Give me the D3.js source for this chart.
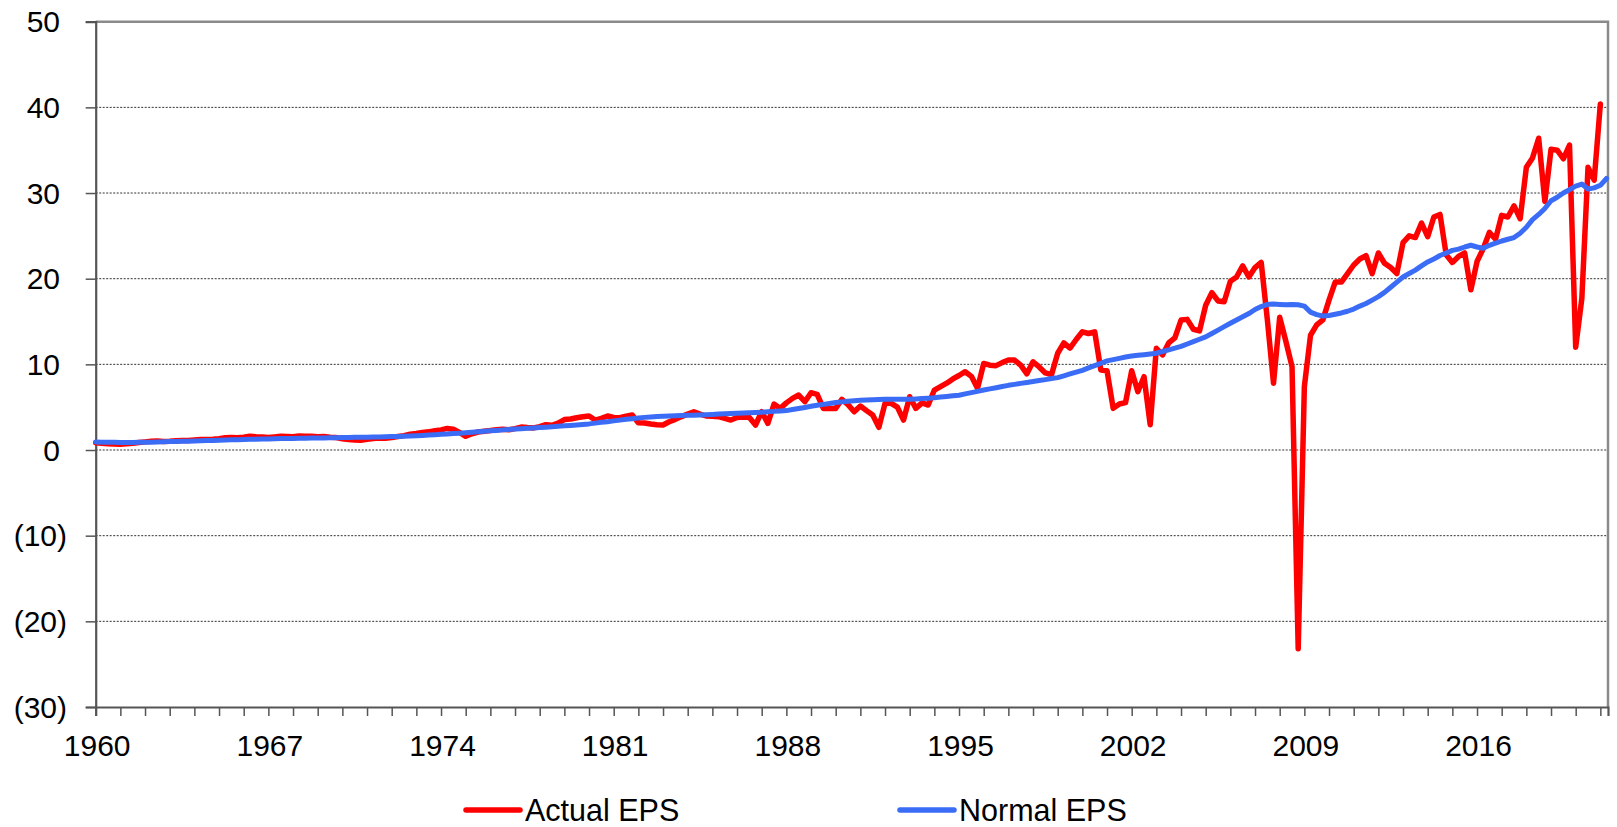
<!DOCTYPE html>
<html><head><meta charset="utf-8">
<script src="https://cdn.jsdelivr.net/npm/d3@7"></script>
<style>
body{margin:0;background:#fff}
svg{display:block}
text{font-family:"Liberation Sans",Arial,Helvetica,sans-serif;fill:#000}
</style>
</head><body>
<svg id="chart" width="1617" height="827"></svg>
<script>
// ---- data (quarterly, starting 1960 Q1) ----
const startYear = 1960;
const actualEPS = [
 0.85,0.78,0.72,0.70, 0.68,0.72,0.78,0.88, 0.95,1.02,1.05,1.00, 1.02,1.08,1.10,1.12,
 1.18,1.22,1.24,1.26, 1.32,1.42,1.45,1.44, 1.50,1.62,1.55,1.52, 1.45,1.52,1.60,1.58,
 1.55,1.64,1.60,1.62, 1.56,1.58,1.50,1.45, 1.32,1.22,1.18,1.15, 1.26,1.35,1.40,1.38,
 1.45,1.58,1.68,1.85, 1.92,2.05,2.12,2.25, 2.35,2.52,2.42,2.05, 1.60,1.90,2.10,2.20,
 2.28,2.38,2.42,2.36, 2.50,2.68,2.62,2.58, 2.72,2.95,2.88,3.15, 3.55,3.62,3.77,3.88,
 3.97,3.50,3.70,3.97, 3.80,3.77,3.95,4.08, 3.19,3.15,3.03,2.95, 2.92,3.30,3.58,3.90,
 4.20,4.47,4.20,3.97, 3.95,3.89,3.70,3.50, 3.80,3.85,3.80,2.92, 4.47,3.11,5.37,4.86,
 5.50,6.03,6.42,5.64, 6.69,6.50,4.86,4.86, 4.86,5.92,5.30,4.47, 5.14,4.60,4.08,2.65,
 5.45,5.45,5.00,3.50, 6.22,4.86,5.50,5.25, 7.00,7.40,7.80,8.30, 8.70,9.14,8.60,7.20,
 10.10,9.90,9.85,10.20, 10.50,10.50,9.90,8.90, 10.30,9.70,9.00,8.80, 11.30,12.50,11.90,12.90,
 13.80,13.60,13.80,9.34, 9.26,4.86,5.37,5.53, 9.26,6.81,8.56,2.95, 11.87,11.10,12.50,13.10,
 15.17,15.25,14.10,13.90, 16.90,18.36,17.40,17.30, 19.70,20.20,21.50,20.20, 21.30,21.90,15.20,7.80,
 15.50,12.70,9.73,-23.20, 7.40,13.40,14.60,15.20, 17.50,19.60,19.60,20.60, 21.60,22.30,22.70,20.60,
 23.00,21.80,21.30,20.60, 24.20,25.00,24.80,26.50, 24.90,27.20,27.50,22.80, 21.90,22.60,23.00,18.70,
 22.00,23.50,25.40,24.60, 27.40,27.20,28.50,27.00, 33.00,34.10,36.40,29.00, 35.10,35.00,34.00,35.60,
 12.00,17.70,33.00,31.50, 40.40
];
const normalEPS = [
 0.93,0.92,0.91,0.90, 0.89,0.89,0.89,0.90, 0.91,0.92,0.94,0.96, 0.98,1.00,1.01,1.03,
 1.05,1.07,1.10,1.12, 1.15,1.17,1.19,1.21, 1.23,1.25,1.27,1.29, 1.30,1.31,1.33,1.34,
 1.35,1.36,1.38,1.39, 1.40,1.41,1.43,1.44, 1.45,1.46,1.48,1.49, 1.50,1.52,1.53,1.55,
 1.57,1.59,1.62,1.64, 1.67,1.70,1.74,1.78, 1.83,1.87,1.92,1.97, 2.02,2.07,2.13,2.18,
 2.24,2.29,2.35,2.40, 2.45,2.49,2.54,2.58, 2.62,2.67,2.72,2.77, 2.82,2.87,2.93,2.99,
 3.05,3.14,3.23,3.31, 3.40,3.49,3.58,3.66, 3.75,3.81,3.86,3.91, 3.95,3.97,4.00,4.02,
 4.05,4.07,4.10,4.12, 4.15,4.19,4.22,4.26, 4.30,4.33,4.36,4.39, 4.42,4.46,4.51,4.55,
 4.60,4.72,4.85,4.97, 5.10,5.22,5.33,5.44, 5.55,5.62,5.68,5.74, 5.80,5.84,5.87,5.90,
 5.92,5.92,5.93,5.93, 5.93,5.96,6.00,6.05, 6.10,6.18,6.25,6.33, 6.40,6.55,6.70,6.85,
 7.00,7.14,7.27,7.41, 7.55,7.66,7.78,7.89, 8.00,8.11,8.22,8.34, 8.45,8.66,8.88,9.09,
 9.30,9.58,9.85,10.13, 10.40,10.55,10.70,10.85, 10.97,11.05,11.13,11.22, 11.30,11.50,11.70,11.90,
 12.10,12.38,12.65,12.93, 13.20,13.60,14.00,14.40, 14.80,15.18,15.55,15.93, 16.40,16.75,17.00,17.05,
 17.00,16.95,17.00,16.95, 16.80,16.10,15.80,15.65, 15.70,15.85,16.00,16.20, 16.45,16.80,17.10,17.50,
 17.90,18.40,19.00,19.60, 20.20,20.60,21.00,21.50, 21.95,22.30,22.70,23.00, 23.30,23.45,23.70,23.90,
 23.70,23.55,23.90,24.15, 24.40,24.60,24.80,25.30, 26.00,26.90,27.50,28.20, 29.10,29.50,30.00,30.40,
 30.80,31.05,30.45,30.60, 30.90,31.70
];
const yTickValues = [50,40,30,20,10,0,-10,-20,-30];
const gridValues = [40,30,20,10,0,-10,-20];
const xTickLabels = [1960,1967,1974,1981,1988,1995,2002,2009,2016];
const seriesNames = ["Actual EPS","Normal EPS"];
const seriesColors = ["#ff0000","#3b6cf6"];

// ---- layout ----
const svg = d3.select("#chart");
const plot = {left:95.7, right:1608, top:21.7, bottom:707};
const x = d3.scaleLinear().domain([startYear, 2021.31]).range([plot.left, plot.right]);
const y = d3.scaleLinear().domain([-30, 50]).range([plot.bottom, plot.top]);

// gridlines
svg.append("g").selectAll("line").data(gridValues).join("line")
  .attr("x1", plot.left).attr("x2", plot.right)
  .attr("y1", d => y(d)).attr("y2", d => y(d))
  .attr("stroke", "#333").attr("stroke-width", 1).attr("stroke-dasharray", "2,1.5");

// plot frame (top/right)
svg.append("path")
  .attr("d", `M${plot.left},${y(50)}H${plot.right}V${plot.bottom}`)
  .attr("fill", "none").attr("stroke", "#8a8a8a").attr("stroke-width", 2.5);

// y axis
const yAxis = d3.axisLeft(y).tickValues(yTickValues).tickSize(10).tickFormat("");
const gy = svg.append("g").attr("transform", `translate(${plot.left},0)`).call(yAxis);
gy.select(".domain").attr("stroke", "#555").attr("stroke-width", 2.2);
gy.selectAll(".tick line").attr("stroke", "#555").attr("stroke-width", 1.5);
svg.append("g").selectAll("text").data(yTickValues).join("text")
  .attr("x", d => d < 0 ? 67 : 60)
  .attr("y", d => y(d) + 10.7)
  .attr("text-anchor", "end")
  .style("font-size", "30px")
  .text(d => d < 0 ? `(${-d})` : `${d}`);

// x axis (yearly ticks)
const yearTicks = d3.range(startYear, 2022);
const xAxis = d3.axisBottom(x).tickValues(yearTicks).tickSize(9).tickFormat("");
const gx = svg.append("g").attr("transform", `translate(0,${plot.bottom})`).call(xAxis);
gx.select(".domain").attr("stroke", "#555").attr("stroke-width", 2.2);
gx.selectAll(".tick line").attr("stroke", "#555").attr("stroke-width", 1.5);
svg.append("g").selectAll("text").data(xTickLabels).join("text")
  .attr("x", d => x(d) + 1.5)
  .attr("y", 756)
  .attr("text-anchor", "middle")
  .style("font-size", "30px")
  .text(d => d);

// lines
const line = d3.line()
  .x((d, i) => x(startYear + i / 4))
  .y(d => y(d));
svg.append("path").datum(actualEPS).attr("d", line)
  .attr("fill", "none").attr("stroke", seriesColors[0]).attr("stroke-width", 5.5)
  .attr("stroke-linejoin", "round").attr("stroke-linecap", "round");
svg.append("path").datum(normalEPS).attr("d", line)
  .attr("fill", "none").attr("stroke", seriesColors[1]).attr("stroke-width", 5)
  .attr("stroke-linejoin", "round").attr("stroke-linecap", "round");

// legend
const legendX = [466, 900];
const lg = svg.append("g").selectAll("g").data(seriesNames).join("g")
  .attr("transform", (d, i) => `translate(${legendX[i]},810)`);
lg.append("line").attr("x1", 0).attr("x2", 54).attr("y1", 0).attr("y2", 0)
  .attr("stroke", (d, i) => seriesColors[i]).attr("stroke-width", 5.5).attr("stroke-linecap", "round");
lg.append("text").attr("x", 59).attr("y", 10.5).style("font-size", "30.5px").text(d => d);
</script>
</body></html>
